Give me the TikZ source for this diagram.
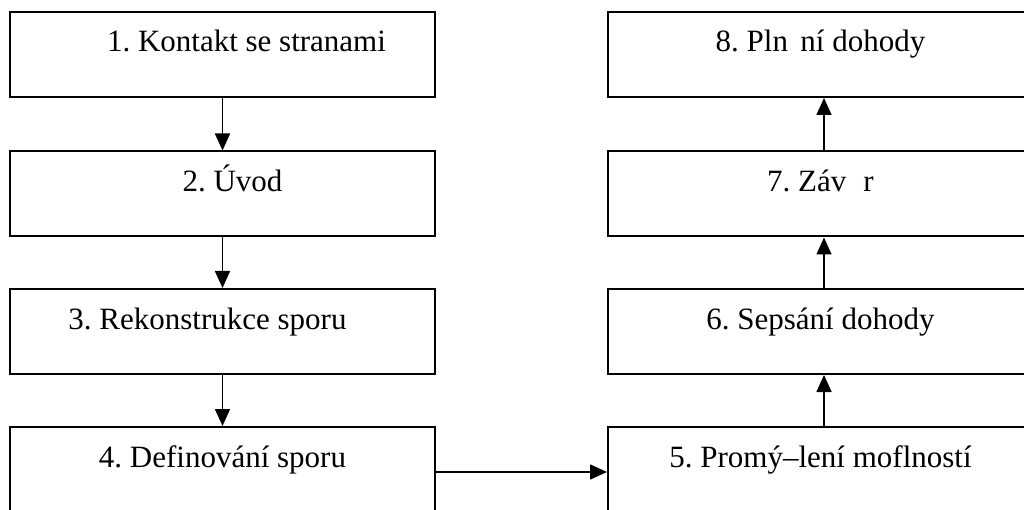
\documentclass[tikz,border=0pt]{standalone}
\usepackage{fontspec}
\setmainfont{Liberation Serif}
\usetikzlibrary{arrows.meta}
\frenchspacing
\tikzset{
  stage/.style={draw=black, line width=2pt, rectangle, minimum width=425pt,
    inner xsep=0pt, inner ysep=0pt, text height=40pt, text depth=45pt,
    font=\fontsize{31}{37}\selectfont, align=center},
  flow/.style={line width=1.6pt, -{Triangle[width=15pt,length=17pt]}}
}
\begin{document}
\begin{tikzpicture}[x=1pt,y=-1pt]
\useasboundingbox (0,0) rectangle (1024,510);
\clip (0,0) rectangle (1024,510);
\fill[white] (0,0) rectangle (1024,510);
\node[stage] (b1) at (222.5,54.5) {\hspace*{48pt}1. Kontakt se stranami};
\node[stage] (b2) at (222.5,194) {\hspace*{20pt}2. Úvod};
\node[stage] (b3) at (222.5,331.5) {\hspace*{-30pt}3. Rekonstrukce sporu};
\node[stage] (b4) at (222.5,469.5) {4. Definování sporu};
\node[stage] (b5) at (820.5,469.5) {5. Promý–lení moflností};
\node[stage] (b6) at (820.5,331.5) {6. Sepsání dohody};
\node[stage] (b7) at (820.5,194) {7. Záv\hspace{0.55em}r};
\node[stage] (b8) at (820.5,54.5) {8. Pln\hspace{0.4em}ní dohody};
\draw[flow] (b1.south) -- (b2.north);
\draw[flow] (b2.south) -- (b3.north);
\draw[flow] (b3.south) -- (b4.north);
\draw[flow] ([yshift=-2.5pt]b4.east) -- ([yshift=-2.5pt]b5.west);
\draw[flow] ([xshift=3.5pt]b5.north) -- ([xshift=3.5pt]b6.south);
\draw[flow] ([xshift=3.5pt]b6.north) -- ([xshift=3.5pt]b7.south);
\draw[flow] ([xshift=3.5pt]b7.north) -- ([xshift=3.5pt]b8.south);
\end{tikzpicture}
\end{document}
